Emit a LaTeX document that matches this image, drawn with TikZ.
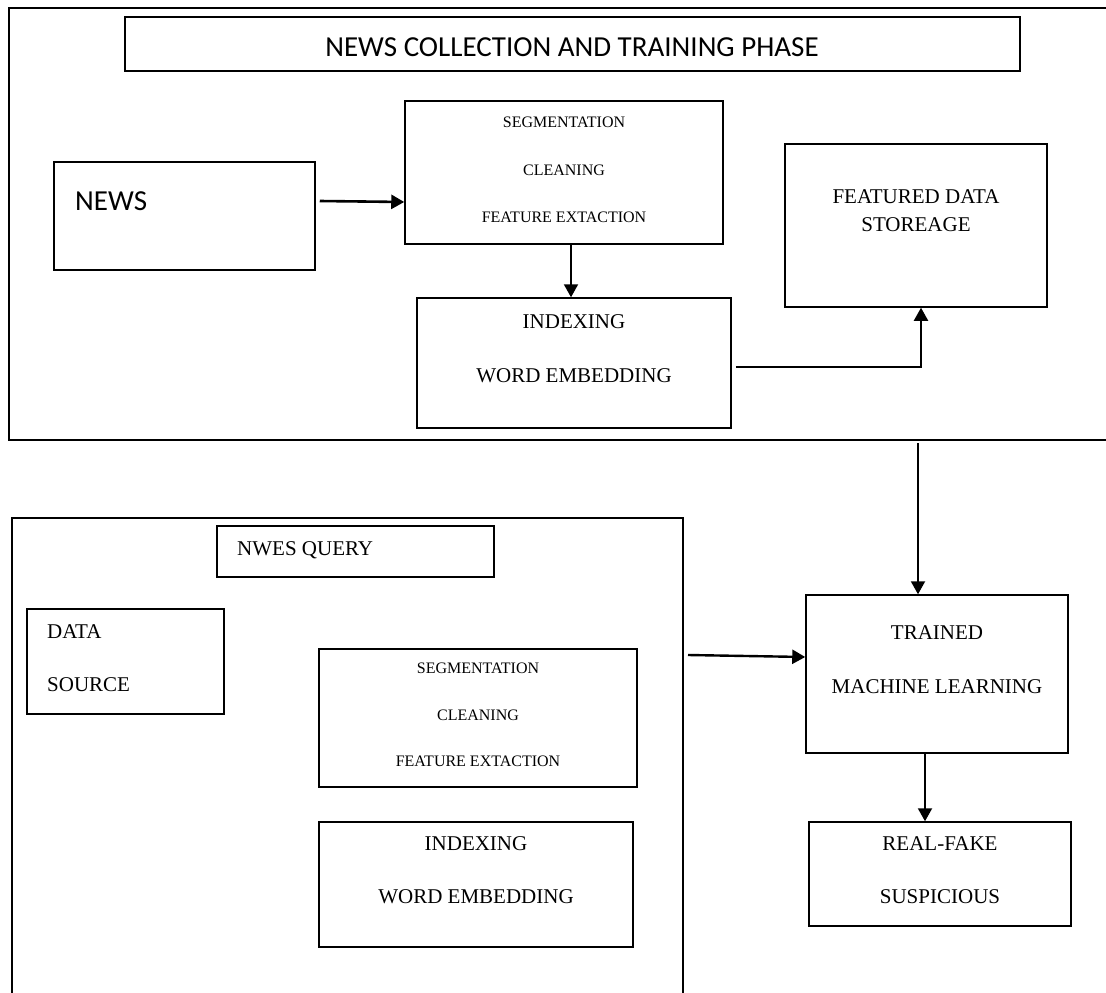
\documentclass[tikz,border=0pt]{standalone}
\usepackage{fontspec}
\setmainfont{Liberation Serif}
\newfontfamily\calib{Carlito}
\usetikzlibrary{arrows.meta,calc}
\begin{document}
\begin{tikzpicture}[x=1pt,y=-1pt,
  box/.style={draw,line width=1.5pt,rectangle,inner sep=0pt},
  frame/.style={draw,line width=1.3pt},
  lbl/.style={inner sep=0pt,text depth=0pt},
  small/.style={lbl,font=\fontsize{16}{18}\selectfont},
  mid/.style={lbl,font=\fontsize{21}{24}\selectfont},
  big/.style={lbl,font=\calib\fontsize{29}{32}\selectfont},
  arr/.style={line width=2pt,-{Triangle[length=13pt,width=14pt]}}]
\useasboundingbox (0,0) rectangle (1106,993);
% outer frames
\draw[frame] (1106,8) -- (9,8) -- (9,440) -- (1106,440);
\draw[frame] (12,993) -- (12,518) -- (683,518) -- (683,993);
% boxes
\node[box,minimum width=895pt,minimum height=54pt] (title) at (572.5,44) {};
\node[box,minimum width=261pt,minimum height=108pt] (news) at (184.5,216) {};
\node[box,minimum width=318pt,minimum height=143pt] (seg1) at (564,172.5) {};
\node[box,minimum width=314pt,minimum height=130pt] (idx1) at (574,363) {};
\node[box,minimum width=262pt,minimum height=163pt] (feat) at (916,225.5) {};
\node[box,minimum width=277pt,minimum height=51pt] (query) at (355.5,551.5) {};
\node[box,minimum width=197pt,minimum height=105pt] (dsrc) at (125.5,661.5) {};
\node[box,minimum width=318pt,minimum height=138pt] (seg2) at (478,718) {};
\node[box,minimum width=314pt,minimum height=125pt] (idx2) at (476,884.5) {};
\node[box,minimum width=262pt,minimum height=158pt] (ml) at (937,674) {};
\node[box,minimum width=262pt,minimum height=104pt] (rf) at (940,874) {};
% texts
\node[big] (tTitle) at (572,47.5) {NEWS COLLECTION AND TRAINING PHASE};
\node[big,anchor=west] (tNews) at (75,201) {NEWS};
\node[small] (s1a) at (564,122) {SEGMENTATION};
\node[small] (s1b) at (564,170) {CLEANING};
\node[small] (s1c) at (564,217) {FEATURE EXTACTION};
\node[mid] (i1a) at (574,322) {INDEXING};
\node[mid] (i1b) at (574,376) {WORD EMBEDDING};
\node[mid] (f1a) at (916,197) {FEATURED DATA};
\node[mid] (f1b) at (916,225) {STOREAGE};
\node[mid,anchor=west] (qa) at (237,549) {NWES QUERY};
\node[mid,anchor=west] (da) at (47,632) {DATA};
\node[mid,anchor=west] (db) at (47,685) {SOURCE};
\node[small] (s2a) at (478,668) {SEGMENTATION};
\node[small] (s2b) at (478,715) {CLEANING};
\node[small] (s2c) at (478,761) {FEATURE EXTACTION};
\node[mid] (i2a) at (476,844) {INDEXING};
\node[mid] (i2b) at (476,897) {WORD EMBEDDING};
\node[mid] (m1) at (937,633) {TRAINED};
\node[mid] (m2) at (937,687) {MACHINE LEARNING};
\node[mid] (r1) at (940,844) {REAL-FAKE};
\node[mid] (r2) at (940,897) {SUSPICIOUS};
% connectors
\coordinate (t1) at (918,443);
\coordinate (q1) at (688,655);
\draw[arr,line width=2.6pt] ([xshift=4pt]news.east |- 0,201) -- (seg1.west |- 0,202);
\draw[arr] (seg1.south -| 571,0) -- (idx1.north -| 571,0);
\draw[arr] ([xshift=4pt]idx1.east |- 0,367) -| (feat.south -| 921,0);
\draw[arr] (t1) -- (ml.north -| t1);
\draw[arr,line width=2.4pt] (q1) -- (ml.west |- 0,657);
\draw[arr] (ml.south -| 925,0) -- (rf.north -| 925,0);
\end{tikzpicture}
\end{document}
